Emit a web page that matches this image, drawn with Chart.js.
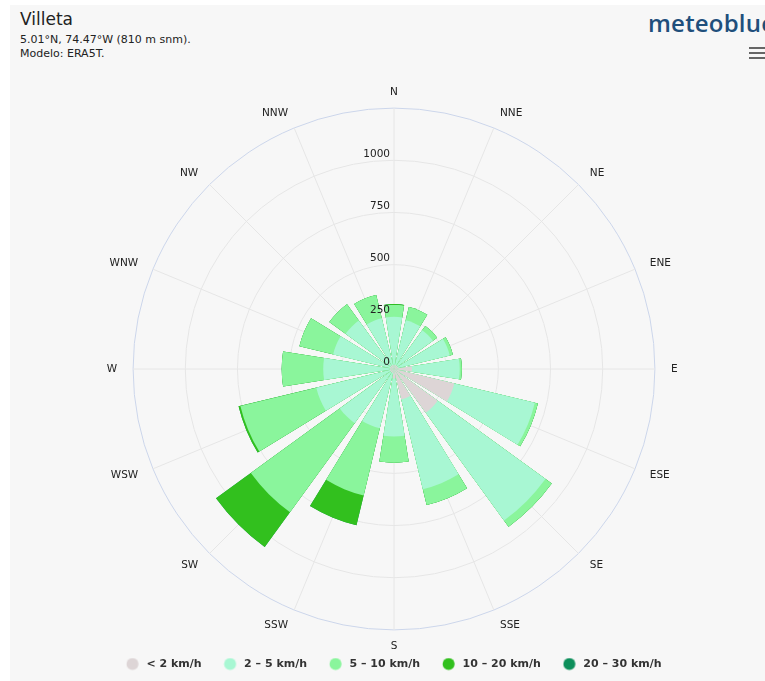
<!DOCTYPE html>
<html>
<head>
<meta charset="utf-8">
<script src="https://cdn.jsdelivr.net/npm/chart.js@4/dist/chart.umd.min.js"></script>
<style>
  html, body { margin: 0; padding: 0; background: #ffffff; }
  body { width: 765px; height: 681px; position: relative; overflow: hidden; font-family: "DejaVu Sans", sans-serif; }
  #panel { position: absolute; left: 10px; top: 5px; right: 0; bottom: 0; background: #f7f7f7; }
  #title { position: absolute; left: 20px; top: 9px; font-size: 17px; color: #222; font-family: "DejaVu Sans", sans-serif; }
  #sub { position: absolute; left: 20px; top: 33px; font-size: 11px; line-height: 14px; color: #222; font-family: "DejaVu Sans", sans-serif; }
  #logo { position: absolute; left: 648px; top: 6px; font-size: 24px; font-weight: 600; color: #1f4f7c; font-family: "Open Sans", sans-serif; letter-spacing: 0.2px; white-space: nowrap; }
  #menu { position: absolute; left: 749px; top: 47px; width: 16px; }
  #menu div { height: 2px; background: #666; margin-bottom: 3px; }
  canvas { position: absolute; left: 0; top: 0; }
</style>
</head>
<body>
<div id="panel"></div>
<div id="title">Villeta</div>
<div id="sub">5.01°N, 74.47°W (810 m snm).<br>Modelo: ERA5T.</div>
<div id="logo">meteoblue</div>
<div id="menu"><div></div><div></div><div></div></div>
<canvas id="c" width="765" height="681"></canvas>
<script>
// ---- data ----
const directions = ['N','NNE','NE','ENE','E','ESE','SE','SSE','S','SSW','SW','WSW','W','WNW','NW','NNW'];
const speedLabels = ['< 2 km/h', '2 – 5 km/h', '5 – 10 km/h', '10 – 20 km/h', '20 – 30 km/h'];
const calm     = [20, 20, 20, 20, 86, 297, 259, 150, 45, 20, 20, 20, 20, 20, 20, 20];
const light    = [230, 220, 210, 255, 229, 397, 638, 442, 279, 272, 301, 363, 319, 280, 267, 230];
const moderate = [57, 65, 25, 15, 10, 15, 37, 78, 125, 331, 527, 374, 199, 166, 96, 115];
const fresh    = [4, 0, 0, 0, 0, 0, 0, 0, 0, 147, 206, 9, 0, 0, 0, 0];
const strong   = [0, 0, 0, 0, 0, 0, 0, 0, 0, 0, 0, 0, 0, 0, 0, 0];
const radialTicks = [0, 250, 500, 750, 1000];
const radialMax = 1250;
const radialStep = 250;

// ---- styling ----
const speedColors = ['#ddd5d6', '#a8f7d3', '#8af59c', '#32c01e', '#0d8f5b'];
const FONT = '"DejaVu Sans", sans-serif';
const barAngle = 18;
const gapAngle = 22.5 - barAngle;

const series = [calm, light, moderate, fresh, strong];
const cumulative = series.map((_, k) => directions.map((d, i) => {
  let s = 0; for (let j = 0; j <= k; j++) s += series[j][i]; return s;
}));

// half N bar, gap, [bar, gap] x 15, half N bar
function expand(vals) {
  const out = [vals[0], 0];
  for (let i = 1; i < vals.length; i++) { out.push(vals[i], 0); }
  out.push(vals[0]);
  return out;
}
const angles = [barAngle / 2, gapAngle];
for (let i = 1; i < directions.length; i++) angles.push(barAngle, gapAngle);
angles.push(barAngle / 2);
const elementLabels = angles.map((_, i) => 'e' + i);

const datasets = speedLabels.map((lab, k) => ({
  label: lab,
  data: expand(cumulative[k]),
  backgroundColor: speedColors[k],
  borderWidth: 0,
  angle: (ctx) => angles[ctx.dataIndex]
}));

function legendDot(color) {
  const c = document.createElement('canvas');
  c.width = 16; c.height = 13;
  const g = c.getContext('2d');
  g.fillStyle = color;
  g.beginPath(); g.arc(6.75, 6.5, 6, 0, Math.PI * 2); g.fill();
  return c;
}

const tickLabelPlugin = {
  id: 'tickLabels',
  afterDatasetsDraw(chart) {
    const s = chart.scales.r, ctx = chart.ctx;
    ctx.save();
    ctx.font = '10.5px ' + FONT;
    ctx.fillStyle = '#222';
    ctx.textAlign = 'right';
    ctx.textBaseline = 'middle';
    s.ticks.forEach(t => {
      if (!radialTicks.includes(t.value)) return;
      const d = s.getDistanceFromCenterForValue(t.value);
      ctx.fillText(String(t.value), s.xCenter - 4, s.yCenter - d - 6.5);
    });
    ctx.restore();
  }
};

const LEGEND_PAD = 22.5;
const legendNudge = {
  id: 'legendNudge',
  afterLayout(chart) {
    const lg = chart.legend;
    lg.top -= 10.5; lg.bottom -= 10.5;
  }
};

new Chart(document.getElementById('c'), {
  type: 'polarArea',
  data: { labels: elementLabels, datasets },
  plugins: [tickLabelPlugin, legendNudge],
  options: {
    responsive: false,
    animation: false,
    layout: { padding: { left: 74, right: 51, top: 92, bottom: 0 } },
    scales: {
      r: {
        min: 0,
        max: radialMax,
        startAngle: 0,
        labels: directions,
        ticks: { display: false, stepSize: radialStep },
        grid: {
          circular: true,
          color: (c) => c.index === c.chart.scales.r.ticks.length - 1 ? '#ccd6eb' : '#e6e6e6',
          lineWidth: 1
        },
        angleLines: { display: true, color: '#e6e6e6', lineWidth: 1 },
        pointLabels: {
          display: true,
          padding: 16,
          color: '#222',
          font: { family: FONT, size: 10.5, lineHeight: 0.01 }
        }
      }
    },
    plugins: {
      tooltip: { enabled: false },
      legend: {
        position: 'bottom',
        maxHeight: 34.5,
        labels: {
          padding: LEGEND_PAD,
          usePointStyle: true,
          pointStyleWidth: 14.5,
          color: '#333',
          font: { family: FONT, size: 11, weight: 'bold' },
          generateLabels: (chart) => chart.data.datasets.map((ds, i) => ({
            text: ds.label,
            fillStyle: ds.backgroundColor,
            strokeStyle: ds.backgroundColor,
            lineWidth: 0,
            pointStyle: legendDot(ds.backgroundColor),
            hidden: false,
            datasetIndex: i,
            fontColor: '#333'
          }))
        },
        onClick: () => {}
      }
    }
  }
});
</script>
</body>
</html>
